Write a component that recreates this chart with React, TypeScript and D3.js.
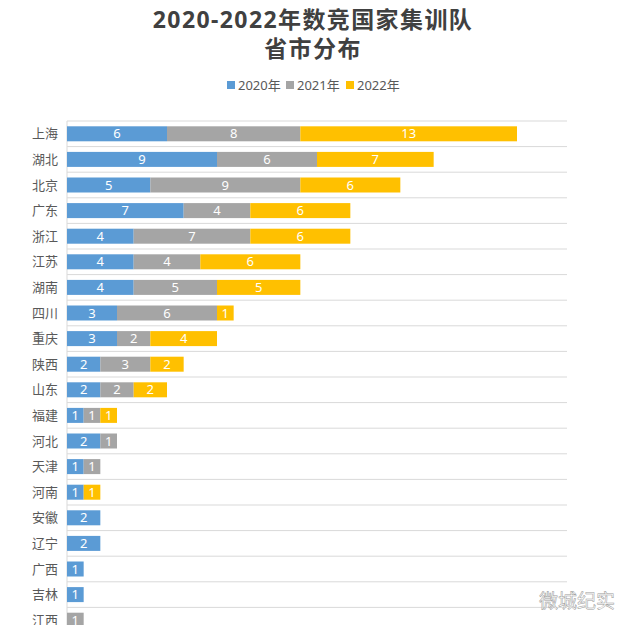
import React from "react";
import * as d3 from "d3";

const provinces = ["上海","湖北","北京","广东","浙江","江苏","湖南","四川","重庆","陕西","山东","福建","河北","天津","河南","安徽","辽宁","广西","吉林","江西"];
const y2020 = [6,9,5,7,4,4,4,3,3,2,2,1,2,1,1,2,2,1,1,0];
const y2021 = [8,6,9,4,7,4,5,6,2,3,2,1,1,1,0,0,0,0,0,1];
const y2022 = [13,7,6,6,6,6,5,1,4,2,2,1,0,0,1,0,0,0,0,0];
const seriesNames = ["2020年","2021年","2022年"];
const colors = ["#5B9BD5","#A5A5A5","#FFC000"];
const titleLines = ["2020-2022年数竞国家集训队","省市分布"];

export default function App() {
  const W = 627, H = 625;
  const x0 = 67, gridRight = 567;
  const x = d3.scaleLinear().domain([0, 27]).range([x0, 517]);
  const y = d3.scaleBand().domain(provinces).range([121, 121 + 25.6 * provinces.length]).paddingInner(0).paddingOuter(0);
  const barH = 15;
  const rows = provinces.map((p, i) => ({ p, v: [y2020[i], y2021[i], y2022[i]] }));
  const stack = d3.stack<any>().keys(["0","1","2"]).value((d: any, k: string) => d.v[+k]);
  const stacked = stack(rows as any);
  const font = "'Noto Sans', 'Noto Sans CJK SC', sans-serif";
  const legendX = [227, 286, 346];
  return (
    <svg width={W} height={H} style={{ position: "absolute", left: 0, top: 0, background: "#fff" }} fontFamily={font}>
      <rect x={0} y={0} width={W} height={H} fill="#fff" />
      <text x={313} y={28} textAnchor="middle" fontSize={23} fontWeight="bold" fill="#404040" letterSpacing={1.4}>{titleLines[0]}</text>
      <text x={313} y={57} textAnchor="middle" fontSize={23} fontWeight="bold" fill="#404040" letterSpacing={1.4}>{titleLines[1]}</text>
      {seriesNames.map((s, i) => (
        <g key={s}>
          <rect x={legendX[i]} y={81} width={8} height={8} fill={colors[i]} />
          <text x={legendX[i] + 11} y={90} fontSize={13} fill="#595959">{s}</text>
        </g>
      ))}
      {provinces.map((p) => (
        <line key={"g" + p} x1={x0} x2={gridRight} y1={y(p)!} y2={y(p)!} stroke="#d9d9d9" strokeWidth={1} />
      ))}
      <line x1={x0} x2={gridRight} y1={y.range()[1]} y2={y.range()[1]} stroke="#d9d9d9" />
      <line x1={x0} x2={x0} y1={121} y2={H} stroke="#d9d9d9" />
      {provinces.map((p) => (
        <text key={"l" + p} x={58} y={y(p)! + y.bandwidth() / 2 + 4.5} textAnchor="end" fontSize={13} fill="#595959">{p}</text>
      ))}
      {stacked.map((layer, si) => (
        <g key={si}>
          {layer.map((d: any, i: number) => {
            const val = d[1] - d[0];
            if (val <= 0) return null;
            const p = provinces[i];
            const yy = y(p)! + (y.bandwidth() - barH) / 2;
            return (
              <g key={p}>
                <rect x={x(d[0])} y={yy} width={x(d[1]) - x(d[0])} height={barH} fill={colors[si]} />
                <text x={(x(d[0]) + x(d[1])) / 2} y={yy + barH / 2 + 4.5} textAnchor="middle" fontSize={13} fill="#fff">{val}</text>
              </g>
            );
          })}
        </g>
      ))}
      <text x={615} y={608} textAnchor="end" fontSize={19} fill="#fff" stroke="#999" strokeWidth={0.5}>微城纪实</text>
    </svg>
  );
}
